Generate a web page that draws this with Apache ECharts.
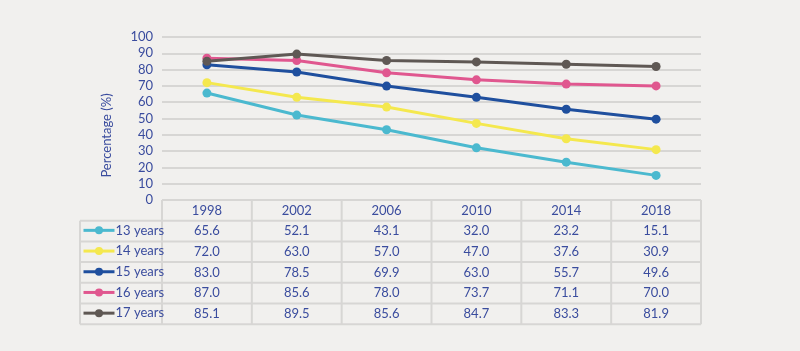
<!DOCTYPE html>
<html>
<head>
<meta charset="utf-8">
<script src="https://cdn.jsdelivr.net/npm/echarts@6/dist/echarts.min.js"></script>
<style>
  html,body{margin:0;padding:0;background:#f1f0ee;}
  #chart{width:800px;height:351px;}
</style>
</head>
<body>
<div id="chart"></div>
<script>
const years=["1998","2002","2006","2010","2014","2018"];
const names=["13 years","14 years","15 years","16 years","17 years"];
const colors=["#4bb9cf","#f4e84e","#1f4f9e","#e0578f","#5f5854"];
const age13=[65.6,52.1,43.1,32.0,23.2,15.1];
const age14=[72.0,63.0,57.0,47.0,37.6,30.9];
const age15=[83.0,78.5,69.9,63.0,55.7,49.6];
const age16=[87.0,85.6,78.0,73.7,71.1,70.0];
const age17=[85.1,89.5,85.6,84.7,83.3,81.9];
const seriesData=[age13,age14,age15,age16,age17];

const textColor="#3a4c9e";
const lineColor="#d7d6d4";
const font="Lato";
const rowH=20.7;
const tableLeft=80;

const chart=echarts.init(document.getElementById("chart"));

chart.setOption({
    backgroundColor:"#f1f0ee",
    animation:false,
    textStyle:{fontFamily:font},
    grid:{left:162,right:99,top:37,bottom:151},
    xAxis:{
        type:"category",
        data:years,
        boundaryGap:true,
        axisLine:{show:false},
        axisTick:{show:false},
        axisLabel:{show:false}
    },
    yAxis:{
        type:"value",
        min:0,
        max:100,
        interval:10,
        name:"Percentage (%)",
        nameLocation:"middle",
        nameGap:49,
        nameTextStyle:{color:textColor,fontSize:13,fontFamily:font,padding:[0,0,0,-34]},
        axisLine:{show:false},
        axisTick:{show:false},
        axisLabel:{color:textColor,fontSize:13,margin:9},
        splitLine:{lineStyle:{color:lineColor,width:2}}
    },
    legend:names.map((n,i)=>({
        data:[n],
        left:82,
        top:220+rowH*i+rowH/2-7,
        padding:0,
        itemWidth:31,
        itemHeight:10,
        itemGap:0,
        lineStyle:{width:3},
        textStyle:{color:textColor,fontSize:13,padding:[0,0,0,-4],lineHeight:14}
    })),
    series:names.map((n,i)=>({
        name:n,
        type:"line",
        data:seriesData[i],
        symbol:"circle",
        symbolSize:9,
        lineStyle:{width:3,color:colors[i]},
        itemStyle:{color:colors[i]},
        z:2
    }))
});

// data table under the plot, laid out on the category axis
const xs=years.map((y,i)=>chart.convertToPixel({xAxisIndex:0},i));
const colW=xs[1]-xs[0];
const tLeft=xs[0]-colW/2;
const tRight=xs[xs.length-1]+colW/2;
const tTop=chart.convertToPixel({yAxisIndex:0},0);
const tBottom=tTop+rowH*(names.length+1);

const g=[];
const line=(x1,y1,x2,y2)=>g.push({
    type:"line",
    shape:{x1,y1,x2,y2},
    style:{stroke:lineColor,lineWidth:2},
    z:1
});
line(tLeft,tTop,tRight,tTop);
for(let r=1;r<=names.length+1;r++){
    line(tableLeft,tTop+rowH*r,tRight,tTop+rowH*r);
}
line(tableLeft,tTop+rowH,tableLeft,tBottom);
for(let c=0;c<=years.length;c++){
    line(tLeft+colW*c,tTop,tLeft+colW*c,tBottom);
}
const cell=(x,y,txt)=>g.push({
    type:"text",
    x,y,
    style:{text:txt,fill:textColor,font:"13px "+font,align:"center",verticalAlign:"middle"},
    z:3
});
years.forEach((y,i)=>cell(xs[i],tTop+rowH/2,y));
seriesData.forEach((arr,r)=>{
    arr.forEach((v,i)=>cell(xs[i],tTop+rowH*(r+1.5),v.toFixed(1)));
});

chart.setOption({graphic:g});
</script>
</body>
</html>
